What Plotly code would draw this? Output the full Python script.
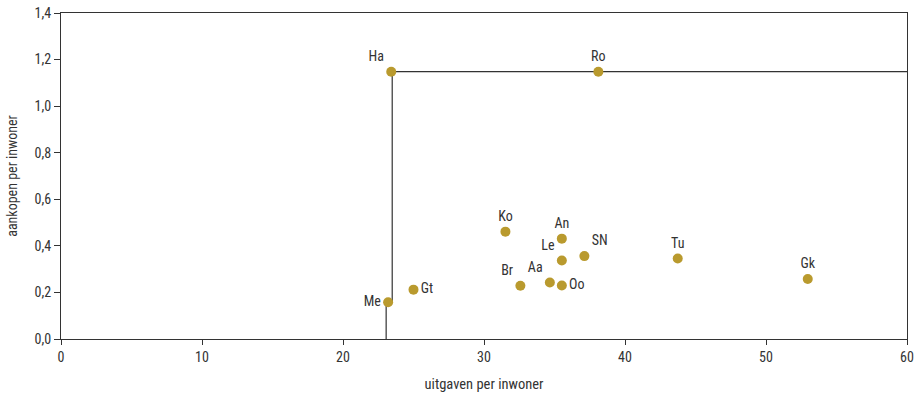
import plotly.graph_objects as go

names = ["Ha", "Ro", "Me", "Gt", "Ko", "An", "Le", "SN", "Br", "Aa", "Oo", "Tu", "Gk"]
uitgaven = [23.42, 38.11, 23.2, 25.0, 31.52, 35.52, 35.52, 37.12, 32.58, 34.67, 35.52, 43.74, 52.96]
aankopen = [1.148, 1.148, 0.158, 0.212, 0.461, 0.431, 0.337, 0.356, 0.229, 0.243, 0.230, 0.346, 0.258]
label_pos = ["top left", "top center", "middle left", "middle right", "top center", "top center",
             "top left", "top right", "top left", "top left", "middle right", "top center", "top center"]

frontier_x = [23.06, 23.06, 23.49, 23.49, 60]
frontier_y = [0, 0.158, 0.158, 1.148, 1.148]

x_ticks = [0, 10, 20, 30, 40, 50, 60]
y_ticks = [0, 0.2, 0.4, 0.6, 0.8, 1.0, 1.2, 1.4]
y_tick_labels = ["0,0", "0,2", "0,4", "0,6", "0,8", "1,0", "1,2", "1,4"]

FONT = "Liberation Sans Narrow, Roboto Condensed, Open Sans, sans-serif"

fig = go.Figure()
fig.add_trace(go.Scatter(
    x=frontier_x, y=frontier_y, mode="lines",
    line=dict(color="#333333", width=1.2), hoverinfo="skip", showlegend=False,
))
fig.add_trace(go.Scatter(
    x=uitgaven, y=aankopen, mode="markers+text", text=names,
    textposition=label_pos,
    textfont=dict(family=FONT, size=14, color="#333333"),
    marker=dict(color="#B99A2E", size=10),
    showlegend=False, cliponaxis=False,
))

fig.update_layout(
    width=914, height=393,
    margin=dict(l=61, r=7, t=13, b=54, autoexpand=False),
    paper_bgcolor="white", plot_bgcolor="white",
    font=dict(family=FONT, size=14, color="#333333"),
)
fig.update_xaxes(
    range=[0, 60], tickvals=x_ticks, ticktext=[str(v) for v in x_ticks],
    showgrid=False, zeroline=False, showline=True, linecolor="#333333", linewidth=1.2,
    mirror=True, ticks="outside", ticklen=5, tickcolor="#333333", automargin=False,
    title=dict(text="uitgaven per inwoner", standoff=14, font=dict(size=14.5)),
)
fig.update_yaxes(
    range=[0, 1.4], tickvals=y_ticks, ticktext=y_tick_labels,
    showgrid=False, zeroline=False, showline=True, linecolor="#333333", linewidth=1.2,
    mirror=True, ticks="outside", ticklen=6, tickcolor="#333333", automargin=False,
    title=dict(text="aankopen per inwoner", standoff=13, font=dict(size=14)),
)

fig.write_html("out.html", config={"displayModeBar": False},
               post_script="document.body.style.margin='0';document.body.style.overflow='hidden';")
